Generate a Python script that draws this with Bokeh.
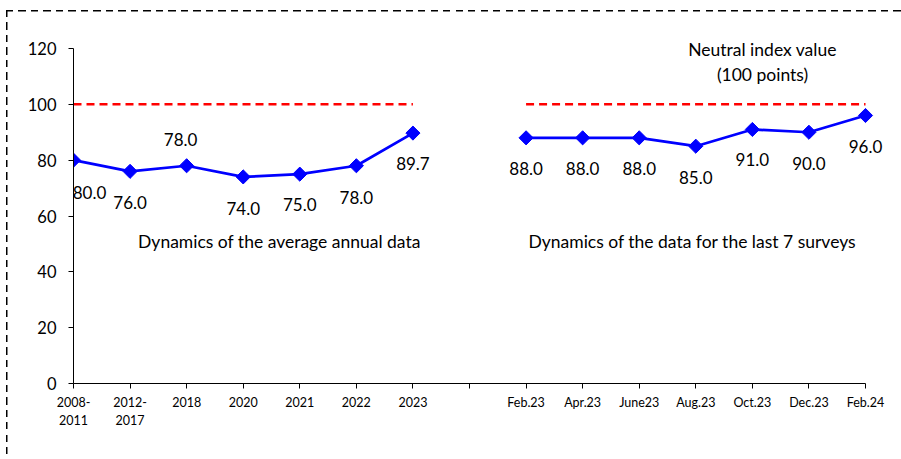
import numpy as np
from bokeh.plotting import figure
from bokeh.models import Range1d, FixedTicker, Label, ColumnDataSource
from bokeh.core.properties import value
from bokeh.embed import file_html
from bokeh.resources import INLINE

# ---- data ----
annual_labels = ["2008-\n2011", "2012-\n2017", "2018", "2020", "2021", "2022", "2023"]
annual_values = [80.0, 76.0, 78.0, 74.0, 75.0, 78.0, 89.7]
survey_labels = ["Feb.23", "Apr.23", "June23", "Aug.23", "Oct.23", "Dec.23", "Feb.24"]
survey_values = [88.0, 88.0, 88.0, 85.0, 91.0, 90.0, 96.0]
neutral_value = 100.0
y_ticks = [0, 20, 40, 60, 80, 100, 120]

# ---- label placement (styling, screen px) ----
annual_dx = [16, 0, -6, 0, 0, 0, 0]
annual_dy = [32, 31, -26, 32, 30, 32, 30]
survey_dx = [0, 0, 0, 0, 0, 0, 0]
survey_dy = [31, 31, 31, 31, 30, 31, 31]

FONT = "Lato"
BLUE = "#0000FF"
RED = "#FF0000"

n1 = len(annual_labels)
n2 = len(survey_labels)
x_annual = list(range(n1))
x_survey = list(range(n1 + 1, n1 + 1 + n2))
all_ticks = list(range(n1 + 1 + n2))
overrides = {}
for i, lab in zip(x_annual, annual_labels):
    overrides[i] = lab
overrides[n1] = ""
for i, lab in zip(x_survey, survey_labels):
    overrides[i] = lab

# ---- geometry (px) ----
W, H = 901, 459
AX_L, AX_R, AX_T, AX_B = 73, 865, 48, 383      # axis box inside the figure
FR_R, FR_T = 899, 12                           # frame extends beyond axes so labels aren't clipped
x_max = all_ticks[-1]
y_max = y_ticks[-1]
x_end = x_max + (FR_R - AX_R) * x_max / (AX_R - AX_L)
y_end = y_max + (AX_T - FR_T) * y_max / (AX_B - AX_T)

border_css = {
    "background-image": (
        "repeating-linear-gradient(to right, #000 0px, #000 7px, transparent 7px, transparent 12.5px),"
        "repeating-linear-gradient(to bottom, #000 0px, #000 7px, transparent 7px, transparent 12.5px)"
    ),
    "background-size": f"{W - 6}px 1.5px, 1.5px {H - 10}px",
    "background-position": "6px 10px, 6px 10px",
    "background-repeat": "no-repeat, no-repeat",
}

p = figure(width=W, height=H, output_backend="svg", toolbar_location=None,
           x_range=Range1d(0, x_end), y_range=Range1d(0, y_end),
           min_border_left=AX_L, min_border_right=W - FR_R,
           min_border_top=FR_T, min_border_bottom=H - AX_B,
           styles=border_css)
p.border_fill_color = None
p.background_fill_color = None
p.outline_line_color = None
p.grid.visible = False

# axes
xa = p.xaxis[0]
xa.bounds = (0, x_max)
xa.ticker = FixedTicker(ticks=all_ticks)
xa.major_label_overrides = overrides
xa.major_label_text_font = FONT
xa.major_label_text_font_size = "12.5px"
xa.major_label_text_color = "#000000"
xa.major_label_text_line_height = 1.25
xa.major_label_standoff = 6
xa.major_tick_out = 5
xa.major_tick_in = 0
xa.minor_tick_out = 0
xa.minor_tick_in = 0
xa.axis_line_color = "#000000"
xa.major_tick_line_color = "#000000"

ya = p.yaxis[0]
ya.bounds = (0, y_max)
ya.ticker = FixedTicker(ticks=y_ticks)
ya.major_label_text_font = FONT
ya.major_label_text_font_size = "16.5px"
ya.major_label_text_color = "#000000"
ya.major_label_standoff = 12
ya.major_tick_out = 5
ya.major_tick_in = 0
ya.minor_tick_out = 0
ya.minor_tick_in = 0
ya.axis_line_color = "#000000"
ya.major_tick_line_color = "#000000"

# neutral lines
for xs in (x_annual, x_survey):
    p.line([xs[0], xs[-1]], [neutral_value, neutral_value], line_color=RED,
           line_width=2.5, line_dash="8 5")

# series
for xs, vals, dx, dy in ((x_annual, annual_values, annual_dx, annual_dy),
                         (x_survey, survey_values, survey_dx, survey_dy)):
    src = ColumnDataSource(dict(x=xs, y=vals, t=[f"{v:.1f}" for v in vals], dx=dx, dy=dy))
    p.line("x", "y", source=src, line_color=BLUE, line_width=2.75)
    p.scatter("x", "y", source=src, marker="square", angle=np.pi / 4, size=10,
              fill_color=BLUE, line_color=BLUE)
    p.text("x", "y", text="t", source=src, x_offset="dx", y_offset="dy",
           text_font=value(FONT), text_font_size="17px", text_color="#000000",
           text_align="center", text_baseline="middle")

# annotations
def add_label(x, y, txt):
    p.add_layout(Label(x=x, y=y, text=txt, text_font=FONT, text_font_size="17.5px",
                       text_color="#000000", text_align="center", text_baseline="middle"))

add_label(12.18, 119.6, "Neutral index value")
add_label(12.18, 110.7, "(100 points)")
add_label(3.64, 50.9, "Dynamics of the average annual data")
add_label(10.94, 50.9, "Dynamics of the data for the last 7 surveys")

open("out.html", "w").write(file_html(p, INLINE))
